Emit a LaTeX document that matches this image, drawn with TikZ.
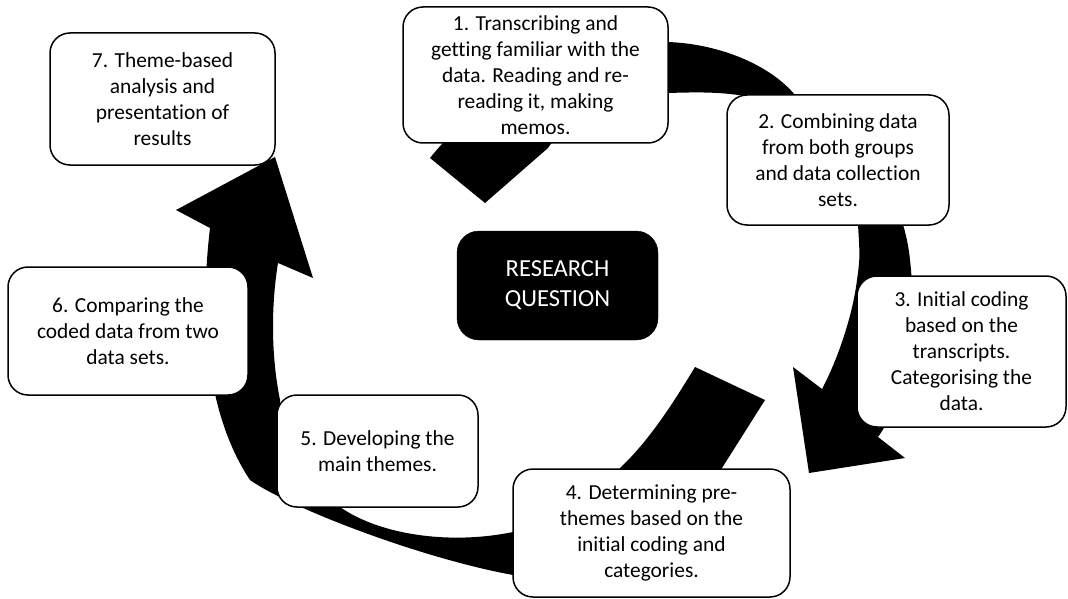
\documentclass[tikz,border=0pt]{standalone}
\usepackage{fontspec}
\setmainfont{Carlito}[Ligatures=NoCommon]

\begin{document}
\begin{tikzpicture}[x=1pt,y=-1pt,
  stagebox/.style={draw,line width=1.5pt,rounded corners=20pt,fill=white,
    align=center,inner sep=0pt,font=\fontsize{21.4}{26}\selectfont},
  centrebox/.style={draw,fill=black,text=white,rounded corners=22pt,
    align=center,inner sep=0pt,font=\fontsize{24.5}{30}\selectfont}]

\useasboundingbox (0,0) rectangle (1068,599);

% Upper arrow, from under box 1 round to box 3
\fill[black] (430,158) .. controls (480,95) and (570,45) .. (668,42)
  .. controls (720,44) and (770,65) .. (795,95)
  .. controls (860,140) and (903,190) .. (910,260)
  .. controls (918,330) and (905,400) .. (878,437)
  -- (905,458) -- (809,473) -- (793,367) -- (822,389)
  .. controls (835,365) and (852,320) .. (857,280)
  .. controls (860,258) .. (858,225)
  .. controls (852,160) and (800,108) .. (745,96)
  .. controls (720,92) and (700,92) .. (668,93)
  .. controls (610,95) and (570,115) .. (548,148)
  -- (485,203) -- cycle;

% Lower arrow, from box 3 round the bottom up to box 7
\fill[black] (210,228) .. controls (198,330) and (210,420) .. (250,480)
  .. controls (290,508) and (420,558) .. (513,575)
  .. controls (600,570) and (680,530) .. (722,468)
  -- (765,400) -- (695,367)
  .. controls (675,400) and (650,440) .. (620,468)
  .. controls (590,510) and (560,528) .. (513,532)
  .. controls (450,545) and (380,535) .. (340,507)
  .. controls (300,470) and (280,430) .. (280,400)
  .. controls (270,350) and (272,300) .. (278,263)
  -- (313,278) -- (275,157) -- (176,210) -- cycle;

% Stage boxes
\node[stagebox,minimum width=265pt,minimum height=136pt] (stage1) at (535.5,75)
  {1. Transcribing and\\getting familiar with the\\data. Reading and re-\\reading it, making\\memos.};
\node[stagebox,minimum width=222pt,minimum height=130pt] (stage2) at (838,160)
  {2. Combining data\\from both groups\\and data collection\\sets.};
\node[stagebox,minimum width=209pt,minimum height=151pt] (stage3) at (961.5,351.5)
  {3. Initial coding\\based on the\\transcripts.\\Categorising the\\data.};
\node[stagebox,minimum width=277pt,minimum height=128pt] (stage4) at (651.5,533)
  {4. Determining pre-\\themes based on the\\initial coding and\\categories.};
\node[stagebox,minimum width=201pt,minimum height=112pt] (stage5) at (377.5,451)
  {5. Developing the\\main themes.};
\node[stagebox,minimum width=240pt,minimum height=128pt] (stage6) at (128,331)
  {6. Comparing the\\coded data from two\\data sets.};
\node[stagebox,minimum width=225pt,minimum height=132pt] (stage7) at (162.5,99)
  {7. Theme-based\\analysis and\\presentation of\\results};

% Centre
\node[centrebox,minimum width=201pt,minimum height=109pt] (question) at (557.5,285.5)
  {RESEARCH\\QUESTION};

\end{tikzpicture}
\end{document}
